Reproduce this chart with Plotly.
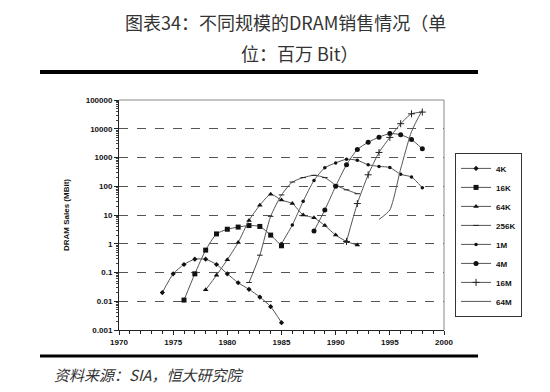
import plotly.graph_objects as go

# ---- data ----
years_4k = [1974, 1975, 1976, 1977, 1978, 1979, 1980, 1981, 1982, 1983, 1984, 1985]
sales_4k = [0.02, 0.09, 0.19, 0.29, 0.29, 0.19, 0.09, 0.044, 0.026, 0.014, 0.0065, 0.0018]

years_16k = [1976, 1977, 1978, 1979, 1980, 1981, 1982, 1983, 1984, 1985]
sales_16k = [0.011, 0.09, 0.6, 2.2, 3.2, 3.8, 4.3, 4.0, 2.0, 0.85]

years_64k = [1978, 1979, 1980, 1981, 1982, 1983, 1984, 1985, 1986, 1987, 1988, 1989, 1990, 1991, 1992]
sales_64k = [0.025, 0.08, 0.28, 1.1, 6.5, 22, 53, 33, 25, 10, 8, 4.3, 2.0, 1.2, 0.9]

years_256k = [1982, 1983, 1984, 1985, 1986, 1987, 1988, 1989, 1990, 1991, 1992]
sales_256k = [0.045, 0.4, 9, 50, 140, 200, 240, 200, 110, 75, 55]

years_1m = [1985, 1986, 1987, 1988, 1989, 1990, 1991, 1992, 1993, 1994, 1995, 1996, 1997, 1998]
sales_1m = [1.0, 4.5, 30, 160, 440, 650, 870, 800, 560, 490, 450, 260, 210, 88]

years_4m = [1988, 1989, 1990, 1991, 1992, 1993, 1994, 1995, 1996, 1997, 1998]
sales_4m = [2.8, 15, 100, 560, 1900, 3400, 5100, 6800, 6200, 4200, 2000]

years_16m = [1991, 1992, 1993, 1994, 1995, 1996, 1997, 1998]
sales_16m = [1.2, 25, 250, 1500, 5000, 15000, 33000, 38000]

years_64m = [1994, 1995, 1996, 1997, 1998]
sales_64m = [7, 15, 400, 8000, 45000]

series_names = ["4K", "16K", "64K", "256K", "1M", "4M", "16M", "64M"]
series_years = [years_4k, years_16k, years_64k, years_256k, years_1m, years_4m, years_16m, years_64m]
series_sales = [sales_4k, sales_16k, sales_64k, sales_256k, sales_1m, sales_4m, sales_16m, sales_64m]

x_tick_vals = [1970, 1975, 1980, 1985, 1990, 1995, 2000]
y_tick_vals = [0.001, 0.01, 0.1, 1, 10, 100, 1000, 10000, 100000]
y_tick_text = ["0.001", "0.01", "0.1", "1", "10", "100", "1000", "10000", "100000"]

title_line1 = "图表34：不同规模的DRAM销售情况（单"
title_line2 = "位：百万 Bit）"
source_text = "资料来源：SIA，恒大研究院"
y_title = "DRAM Sales (MBit)"

# ---- styles ----
markers = [
    dict(symbol="diamond", size=4),
    dict(symbol="square", size=5),
    dict(symbol="triangle-up", size=5),
    dict(symbol="line-ew", size=4, line=dict(width=1, color="#222")),
    dict(symbol="circle", size=3.5),
    dict(symbol="circle", size=5),
    dict(symbol="cross-thin", size=5, line=dict(width=1, color="#222")),
    dict(symbol="circle", size=1),
]

fig = go.Figure()
for name, xs, ys, mk in zip(series_names, series_years, series_sales, markers):
    m = dict(color="#111")
    m.update(mk)
    fig.add_trace(go.Scatter(
        x=xs, y=ys, name=f"<b>{name}</b>", mode="lines+markers" if name != "64M" else "lines",
        line=dict(color="#555", width=1, shape="spline", smoothing=0.6),
        marker=m,
    ))

axis_font = dict(family="Liberation Sans, Arial, sans-serif", size=8, color="#111")

minor_y = [m * 10.0 ** e for e in range(-3, 5) for m in range(2, 10)]

fig.update_layout(
    width=550, height=392,
    margin=dict(l=119, r=106, t=100, b=62),
    paper_bgcolor="white", plot_bgcolor="white",
    showlegend=True,
    legend=dict(
        x=1.034, y=0.77, xanchor="left", yanchor="top",
        bordercolor="#333", borderwidth=1, bgcolor="white",
        font=dict(family="Liberation Sans, Arial, sans-serif", size=8, color="#111"),
        tracegroupgap=0, itemwidth=30,
    ),
    xaxis=dict(
        range=[1970, 2000], tickvals=x_tick_vals, ticktext=[f"<b>{v}</b>" for v in x_tick_vals],
        showgrid=False, zeroline=False,
        showline=True, linecolor="#222", linewidth=1,
        ticks="outside", ticklen=4, tickcolor="#222",
        minor=dict(dtick=1, ticks="outside", ticklen=3, tickcolor="#222", showgrid=False),
        tickfont=axis_font,
    ),
    yaxis=dict(
        type="log", range=[-3, 5],
        tickvals=y_tick_vals, ticktext=[f"<b>{t}</b>" for t in y_tick_text],
        showgrid=True, gridcolor="#555", griddash="dash", gridwidth=1,
        zeroline=False,
        showline=True, linecolor="#222", linewidth=1,
        ticks="outside", ticklen=4, tickcolor="#222",
        minor=dict(tickvals=minor_y, ticks="outside", ticklen=2, tickcolor="#444", showgrid=False),
        tickfont=axis_font,
    ),
    font=dict(family="Liberation Sans, Arial, sans-serif"),
)

# plot frame (top / right in gray)
fig.add_shape(type="line", xref="paper", yref="paper", x0=0, x1=1, y0=1, y1=1,
              line=dict(color="#888", width=1))
fig.add_shape(type="line", xref="paper", yref="paper", x0=1, x1=1, y0=0, y1=1,
              line=dict(color="#888", width=1))

# thick black rules
px_to_paper_x = lambda px: (px - 119) / 325
px_to_paper_y = lambda py: (330 - py) / 230
fig.add_shape(type="line", xref="paper", yref="paper",
              x0=px_to_paper_x(40), x1=px_to_paper_x(478),
              y0=px_to_paper_y(72), y1=px_to_paper_y(72),
              line=dict(color="black", width=4))
fig.add_shape(type="line", xref="paper", yref="paper",
              x0=px_to_paper_x(40), x1=px_to_paper_x(478),
              y0=px_to_paper_y(356), y1=px_to_paper_y(356),
              line=dict(color="black", width=3))

cjk = "Noto Sans CJK SC, sans-serif"
fig.add_annotation(text=title_line1, xref="paper", yref="paper",
                   x=px_to_paper_x(285), y=px_to_paper_y(22), showarrow=False,
                   xanchor="center", yanchor="middle",
                   font=dict(family=cjk, size=18, color="#333"))
fig.add_annotation(text=title_line2, xref="paper", yref="paper",
                   x=px_to_paper_x(300), y=px_to_paper_y(53), showarrow=False,
                   xanchor="center", yanchor="middle",
                   font=dict(family=cjk, size=18, color="#333"))
fig.add_annotation(text=f"<i>{source_text}</i>", xref="paper", yref="paper",
                   x=px_to_paper_x(52), y=px_to_paper_y(374), showarrow=False,
                   xanchor="left", yanchor="middle",
                   font=dict(family=cjk, size=15, color="#333"))
fig.add_annotation(text=f"<b>{y_title}</b>", xref="paper", yref="paper",
                   x=px_to_paper_x(66), y=px_to_paper_y(215), showarrow=False,
                   textangle=-90, xanchor="center", yanchor="middle",
                   font=dict(family="Liberation Sans, Arial, sans-serif", size=8, color="#111"))

fig.write_html("out.html", config={"displayModeBar": False},
               post_script="document.body.style.margin='0';")
